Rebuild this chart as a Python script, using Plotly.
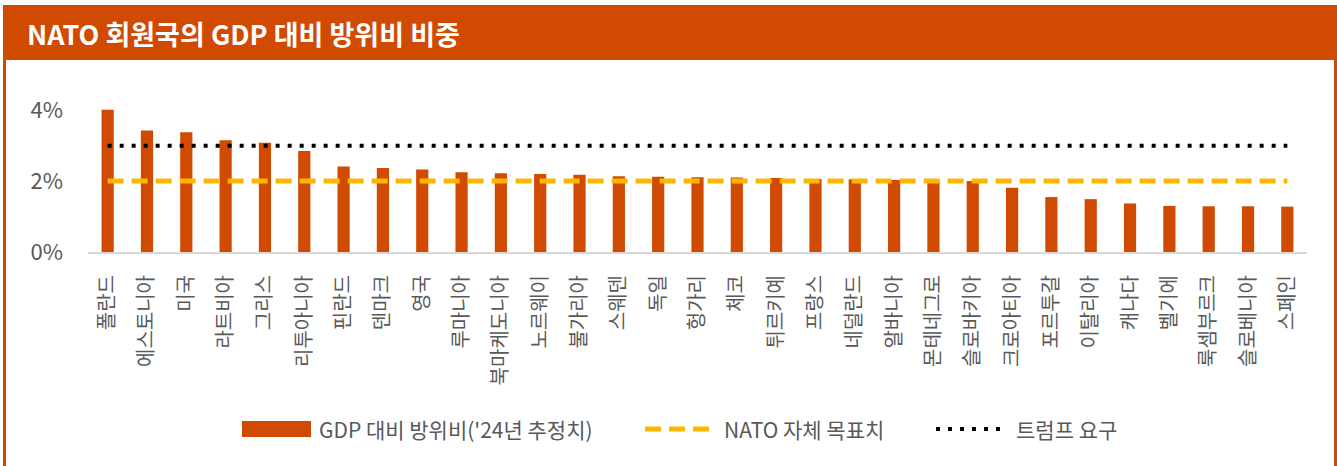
import plotly.graph_objects as go

countries = ["폴란드", "에스토니아", "미국", "라트비아", "그리스", "리투아니아", "핀란드", "덴마크",
             "영국", "루마니아", "북마케도니아", "노르웨이", "불가리아", "스웨덴", "독일", "헝가리",
             "체코", "튀르키예", "프랑스", "네덜란드", "알바니아", "몬테네그로", "슬로바키아",
             "크로아티아", "포르투갈", "이탈리아", "캐나다", "벨기에", "룩셈부르크", "슬로베니아", "스페인"]
defense_gdp = [4.01, 3.43, 3.38, 3.15, 3.08, 2.85, 2.41, 2.37, 2.33, 2.25, 2.22, 2.20, 2.18, 2.14,
               2.12, 2.11, 2.10, 2.09, 2.06, 2.05, 2.03, 2.02, 2.00, 1.81, 1.55, 1.49, 1.37, 1.30,
               1.29, 1.29, 1.28]
nato_target = [2.0] * len(countries)
trump_demand = [3.0] * len(countries)
y_ticks = [0, 2, 4]
y_tick_text = ["0%", "2%", "4%"]

title_text = "NATO 회원국의 GDP 대비 방위비 비중"
legend_names = ["GDP 대비 방위비('24년 추정치)", "NATO 자체 목표치", "트럼프 요구"]

ORANGE = "#D04A02"
AMBER = "#FFB600"
GRAY = "#595959"
FONT = "Noto Sans CJK KR"

W, H = 1337, 466
ML, MR, MT, MB = 88, 30, 96, 214
PW = W - ML - MR
PH = H - MT - MB


def px(x):
    return (x - ML) / PW


def py(y):
    return (H - MB - y) / PH


fig = go.Figure()
fig.add_trace(go.Bar(x=countries, y=defense_gdp, marker=dict(color=ORANGE, line=dict(width=0)),
                     name=legend_names[0], showlegend=False))
fig.add_trace(go.Scatter(x=countries, y=nato_target, mode="lines",
                         line=dict(color=AMBER, width=5, dash="16px,8px"),
                         name=legend_names[1], showlegend=False))
fig.add_trace(go.Scatter(x=countries, y=trump_demand, mode="lines",
                         line=dict(color="black", width=4, dash="4px,8px"),
                         name=legend_names[2], showlegend=False))

shapes = [
    # title bar
    dict(type="rect", xref="paper", yref="paper", x0=px(3), x1=px(1337), y0=py(60), y1=py(5),
         fillcolor=ORANGE, line=dict(width=0), layer="above"),
    # side borders
    dict(type="rect", xref="paper", yref="paper", x0=px(3), x1=px(6), y0=py(470), y1=py(60),
         fillcolor=ORANGE, line=dict(width=0), layer="above"),
    dict(type="rect", xref="paper", yref="paper", x0=px(1334), x1=px(1337), y0=py(470), y1=py(60),
         fillcolor=ORANGE, line=dict(width=0), layer="above"),
    # legend symbols
    dict(type="rect", xref="paper", yref="paper", x0=px(242), x1=px(311), y0=py(437), y1=py(421),
         fillcolor=ORANGE, line=dict(width=0)),
    dict(type="line", xref="paper", yref="paper", x0=px(645), x1=px(712), y0=py(429), y1=py(429),
         line=dict(color=AMBER, width=5, dash="16px,8px")),
    dict(type="line", xref="paper", yref="paper", x0=px(936), x1=px(1008), y0=py(429), y1=py(429),
         line=dict(color="black", width=4, dash="4px,8px")),
]

annotations = [
    dict(text=f"<b>{title_text}</b>", xref="paper", yref="paper", x=px(25), y=py(33),
         xanchor="left", yanchor="middle", showarrow=False,
         font=dict(family=FONT, size=27, color="white")),
    dict(text=legend_names[0], xref="paper", yref="paper", x=px(317), y=py(429),
         xanchor="left", yanchor="middle", showarrow=False, font=dict(family=FONT, size=21, color=GRAY)),
    dict(text=legend_names[1], xref="paper", yref="paper", x=px(722), y=py(429),
         xanchor="left", yanchor="middle", showarrow=False, font=dict(family=FONT, size=21, color=GRAY)),
    dict(text=legend_names[2], xref="paper", yref="paper", x=px(1014), y=py(429),
         xanchor="left", yanchor="middle", showarrow=False, font=dict(family=FONT, size=21, color=GRAY)),
]

fig.update_layout(
    width=W, height=H,
    margin=dict(l=ML, r=MR, t=MT, b=MB, pad=0),
    paper_bgcolor="white", plot_bgcolor="white",
    bargap=0.69,
    showlegend=False,
    shapes=shapes,
    annotations=annotations,
    font=dict(family=FONT, color=GRAY),
    xaxis=dict(showgrid=False, zeroline=False, showline=True, linecolor="#D9D9D9", linewidth=2,
               ticks="", tickangle=-90, tickfont=dict(family=FONT, size=20, color=GRAY),
               ticklabelstandoff=13, fixedrange=True),
    yaxis=dict(range=[0, 4.4], tickvals=y_ticks, ticktext=y_tick_text, showgrid=False,
               zeroline=False, showline=False, ticks="",
               tickfont=dict(family=FONT, size=22, color=GRAY), ticklabelstandoff=24,
               fixedrange=True),
)

fig.write_html("out.html", config={"displayModeBar": False},
               post_script="document.body.style.margin='0';document.body.style.overflow='hidden';")
